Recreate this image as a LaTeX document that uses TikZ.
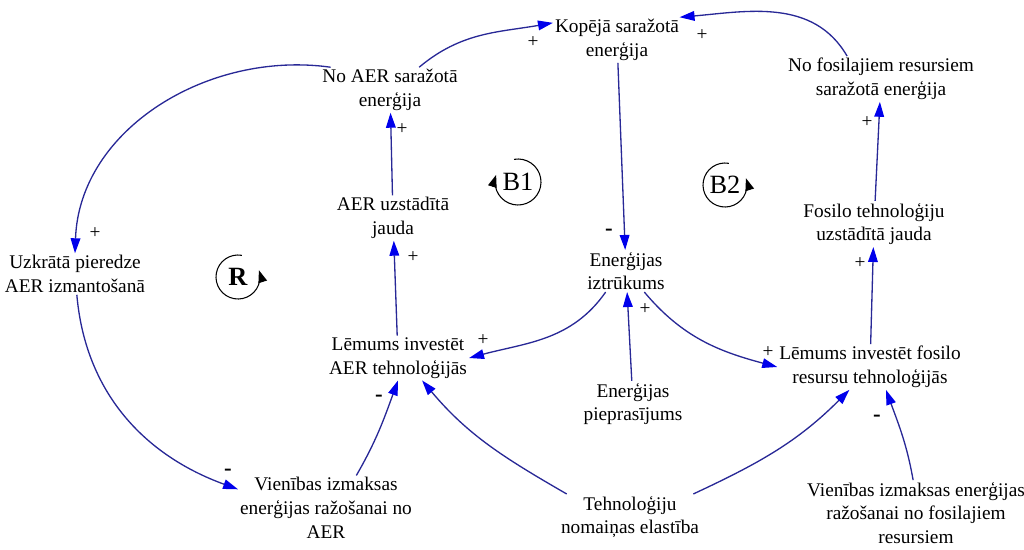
\documentclass[tikz,border=0pt]{standalone}
\usepackage{fontspec}
\setmainfont{Liberation Serif}
\usetikzlibrary{arrows.meta}
\definecolor{linkblue}{RGB}{40,40,150}
\definecolor{tipblue}{RGB}{0,0,235}
\begin{document}
\begin{tikzpicture}[x=0.02cm,y=0.02cm,
  var/.style={align=center,inner sep=1pt,font=\fontsize{11}{13.5}\selectfont},
  link/.style={draw=linkblue,line width=0.75pt,-{Triangle[length=8.5pt,width=5.5pt,color=tipblue]}},
  sign/.style={inner sep=0pt,font=\fontsize{11}{13}\selectfont},
  neg/.style={inner sep=0pt,font=\fontsize{13}{13}\bfseries},
  loopname/.style={inner sep=0pt,font=\fontsize{15}{15}\selectfont},
  looparrow/.style={line width=0.6pt,-{Triangle[length=7pt,width=5pt]}}]
\useasboundingbox (0,0) rectangle (1024,549);
\node[var] (kop) at (617,509) {Kopējā saražotā\\enerģija};
\node[var] (noaer) at (390,459) {No AER saražotā\\enerģija};
\node[var] (nofos) at (881,470) {No fosilajiem resursiem\\saražotā enerģija};
\node[var] (aerjauda) at (393,331) {AER uzstādītā\\jauda};
\node[var] (fosjauda) at (874,325) {Fosilo tehnoloģiju\\uzstādītā jauda};
\node[var] (uzkr) at (75,275) {Uzkrātā pieredze\\AER izmantošanā};
\node[var] (iztr) at (626,278) {Enerģijas\\iztrūkums};
\node[var] (lemaer) at (398,191) {Lēmums investēt\\AER tehnoloģijās};
\node[var] (lemfos) at (870,182) {Lēmums investēt fosilo\\resursu tehnoloģijās};
\node[var] (piepr) at (633,145) {Enerģijas\\pieprasījums};
\node[var] (vienaer) at (326,41) {Vienības izmaksas\\enerģijas ražošanai no\\AER};
\node[var] (tehn) at (630,32) {Tehnoloģiju\\nomaiņas elastība};
\node[var] (vienfos) at (916,36) {Vienības izmaksas enerģijas\\ražošanai no fosilajiem\\resursiem};

\draw[link] (noaer.38) to[out=40,in=190] (kop.165);
\draw[link] (nofos.146) to[out=120,in=5] (kop.20);
\draw[link] (kop) -- (iztr);
\draw[link] (iztr.226) to[out=235,in=15] (lemaer.east);
\draw[link] (iztr.-49) to[out=-50,in=165] (lemfos.west);
\draw[link] (piepr) -- (iztr);
\draw[link] (lemaer) -- (aerjauda);
\draw[link] (aerjauda) -- (noaer);
\draw[link] (noaer.159) to[out=172,in=88] (uzkr.north);
\draw[link] (uzkr.-85) to[out=-85,in=160] (vienaer.168);
\draw[link] (vienaer.47) to[out=60,in=-110] (lemaer.south);
\draw[link] (tehn.160) to[out=150,in=-50] (lemaer.-43);
\draw[link] (tehn.20) to[out=25,in=-135] (lemfos.-132);
\draw[link] (vienfos.95) to[out=100,in=-70] (lemfos.-55);
\draw[link] (lemfos) -- (fosjauda);
\draw[link] (fosjauda) -- (nofos);

\node[sign] (p1) at (533,507) {+};
\node[sign] (p2) at (702,514) {+};
\node[neg] (m1) at (609,317) {-};
\node[sign] (p3) at (483,209) {+};
\node[sign] (p4) at (768,197) {+};
\node[sign] (p5) at (645,240) {+};
\node[sign] (p6) at (413,292) {+};
\node[sign] (p7) at (402,420) {+};
\node[sign] (p8) at (95,316) {+};
\node[neg] (m2) at (228,77) {-};
\node[neg] (m3) at (379,151) {-};
\node[neg] (m4) at (877,131) {-};
\node[sign] (p9) at (860,286) {+};
\node[sign] (p10) at (867,427) {+};

\node[loopname] (loopR) at (238,272) {\textbf{R}};
\draw[looparrow] ([shift={(80:22)}]loopR.center) arc[start angle=80,end angle=378,radius=22];
\node[loopname] (loopB1) at (518,367) {B1};
\draw[looparrow] ([shift={(100:23)}]loopB1.center) arc[start angle=100,end angle=-198,radius=23];
\node[loopname] (loopB2) at (725,364) {B2};
\draw[looparrow] ([shift={(80:22)}]loopB2.center) arc[start angle=80,end angle=378,radius=22];
\end{tikzpicture}
\end{document}
